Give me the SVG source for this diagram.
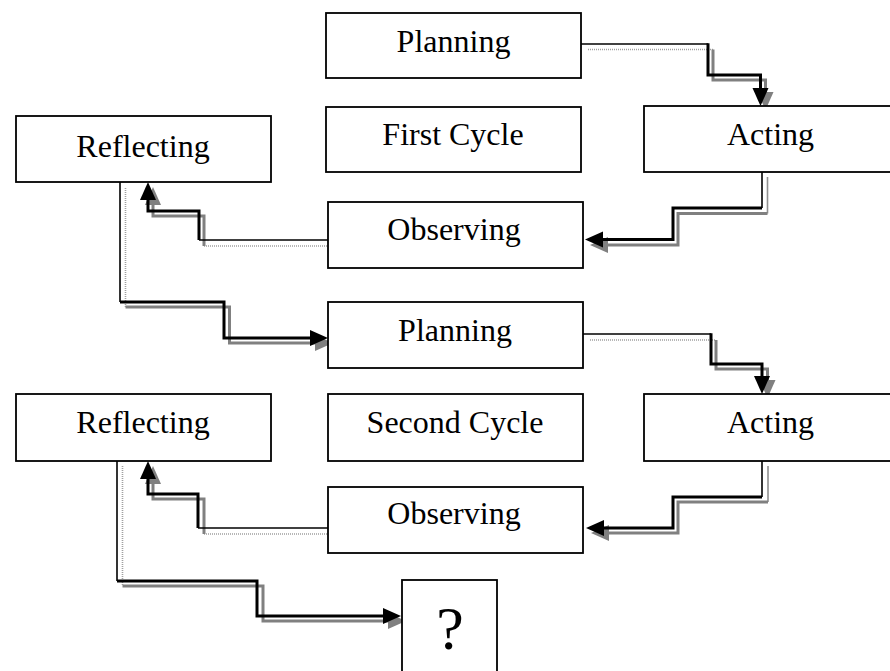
<svg xmlns="http://www.w3.org/2000/svg" width="890" height="671" viewBox="0 0 890 671">
<style>
.box{fill:#fff;stroke:#000;stroke-width:1.8}
.lbl{font-family:"Liberation Serif","Times New Roman",serif;font-size:32px;fill:#000;text-anchor:middle}
.q{font-size:62px}
.bt{fill:none;stroke:#000;stroke-width:1.6}
.bk{fill:none;stroke:#000;stroke-width:3;marker-end:url(#ab)}
.sd{fill:none;stroke:#a0a0a0;stroke-width:1.6;stroke-dasharray:1 1}
.st{fill:none;stroke:#909090;stroke-width:1.6}
.sk{fill:none;stroke:#808080;stroke-width:3;marker-end:url(#ag)}
</style>
<defs>
<marker id="ab" markerUnits="userSpaceOnUse" markerWidth="18" markerHeight="16" refX="2" refY="8" orient="auto" overflow="visible"><path d="M0,0 L18,8 L0,16 z" fill="#000"/></marker>
<marker id="ag" markerUnits="userSpaceOnUse" markerWidth="18" markerHeight="16" refX="2" refY="8" orient="auto" overflow="visible"><path d="M0,0 L18,8 L0,16 z" fill="#808080"/></marker>
</defs>
<rect width="890" height="671" fill="#fff"/>
<g id="connectors">
<path class="sd" d="M588,49.5 H713"/><path class="sk" d="M713,49.5 V80 H765.5 V94"/>
<path class="st" d="M767.5,177 V213.5"/><path class="sk" d="M767.5,213.5 H678 V245 H606"/>
<path class="sd" d="M333,246 H204"/><path class="sk" d="M204,246 V216 H153 V203"/>
<path class="sd" d="M125.5,188 V307"/><path class="sk" d="M125.5,307 H229.5 V343 H317"/>
<path class="sd" d="M590,340 H716"/><path class="sk" d="M716,340 V369 H767.5 V382"/>
<path class="st" d="M768,466 V502"/><path class="sk" d="M768,502 H678 V533 H607"/>
<path class="sd" d="M331,534 H204"/><path class="sk" d="M204,534 V499 H153 V482"/>
<path class="sd" d="M122.5,466 V586"/><path class="sk" d="M122.5,586 H263 V621 H390"/>
<path class="bt" d="M581,44 H708"/><path class="bk" d="M708,43.2 V75 H760.5 V90"/>
<path class="bt" d="M762,172 V208"/><path class="bk" d="M762,208 H673 V239.5 H601"/>
<path class="bt" d="M328,240 H199"/><path class="bk" d="M199,240 V211 H148 V198"/>
<path class="bt" d="M120,182 V302"/><path class="bk" d="M120,302 H224 V338 H312"/>
<path class="bt" d="M583,334 H711"/><path class="bk" d="M711,333.2 V364 H762 V378"/>
<path class="bt" d="M762,461 V497"/><path class="bk" d="M762,497 H673 V528 H602"/>
<path class="bt" d="M328,528 H198"/><path class="bk" d="M198,528 V494 H148 V477"/>
<path class="bt" d="M117,461 V581"/><path class="bk" d="M117,581 H257 V616 H385"/>
</g>
<g id="planning1"><rect class="box" x="326" y="13" width="255" height="65"/><text class="lbl" x="453.5" y="52">Planning</text></g>
<g id="firstCycle"><rect class="box" x="326" y="107" width="255" height="65"/><text class="lbl" x="453" y="145">First Cycle</text></g>
<g id="acting1"><rect class="box" x="644" y="106" width="255" height="66"/><text class="lbl" x="770.5" y="145">Acting</text></g>
<g id="observing1"><rect class="box" x="328" y="202" width="255" height="66"/><text class="lbl" x="454" y="240">Observing</text></g>
<g id="reflecting1"><rect class="box" x="16" y="116" width="255" height="66"/><text class="lbl" x="143" y="157">Reflecting</text></g>
<g id="planning2"><rect class="box" x="328" y="302" width="255" height="66"/><text class="lbl" x="455" y="341">Planning</text></g>
<g id="reflecting2"><rect class="box" x="16" y="394" width="255" height="67"/><text class="lbl" x="143" y="433">Reflecting</text></g>
<g id="secondCycle"><rect class="box" x="328" y="394" width="255" height="67"/><text class="lbl" x="455" y="433">Second Cycle</text></g>
<g id="acting2"><rect class="box" x="644" y="394" width="255" height="67"/><text class="lbl" x="770.5" y="433">Acting</text></g>
<g id="observing2"><rect class="box" x="328" y="487" width="255" height="66"/><text class="lbl" x="454" y="524">Observing</text></g>
<g id="question"><rect class="box" x="402" y="580" width="95" height="100"/><text class="lbl q" x="450" y="649">?</text></g>
</svg>
